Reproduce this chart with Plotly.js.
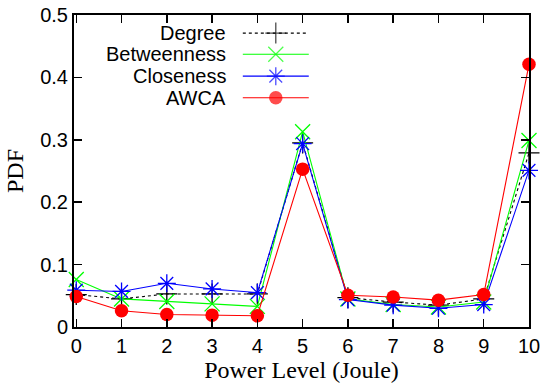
<!DOCTYPE html>
<html>
<head>
<meta charset="utf-8">
<script src="https://cdn.plot.ly/plotly-3.0.1.min.js"></script>
<style>html,body{margin:0;padding:0;background:#fff;}#chart{width:545px;height:387px;}</style>
</head>
<body>
<div id="chart"></div>
<script>
// Data
const powerLevels = [0, 1, 2, 3, 4, 5, 6, 7, 8, 9, 10];
const seriesNames = ["Degree", "Betweenness", "Closeness", "AWCA"];
const degree      = [0.052, 0.045, 0.053, 0.053, 0.053, 0.295, 0.047, 0.040, 0.035, 0.045, 0.279];
const betweenness = [0.076, 0.045, 0.041, 0.037, 0.033, 0.313, 0.045, 0.036, 0.032, 0.040, 0.299];
const closeness   = [0.059, 0.057, 0.070, 0.061, 0.055, 0.294, 0.044, 0.035, 0.030, 0.036, 0.251];
const awca        = [0.049, 0.026, 0.020, 0.019, 0.018, 0.253, 0.051, 0.048, 0.043, 0.052, 0.421];
const xTickVals = [0, 1, 2, 3, 4, 5, 6, 7, 8, 9, 10];
const yTickVals = [0, 0.1, 0.2, 0.3, 0.4, 0.5];
const yTickText = ["0", "0.1", "0.2", "0.3", "0.4", "0.5"];

// Styles
const styles = [
  {color: "#000000", dash: "dot", symbol: "cross-thin-open", size: 15, mlw: 1.3},
  {color: "#00ff00", dash: "solid", symbol: "x-thin-open", size: 15, mlw: 1.3},
  {color: "#0000ff", dash: "solid", symbol: "asterisk-open", size: 15, mlw: 1.3},
  {color: "#ff0000", dash: "solid", symbol: "circle", size: 13.5, mlw: 0}
];
const allSeries = [degree, betweenness, closeness, awca];

const traces = allSeries.map((vals, i) => ({
  x: powerLevels, y: vals, type: "scatter", mode: "lines+markers",
  name: seriesNames[i], showlegend: false,
  line: {color: styles[i].color, width: 1.1, dash: styles[i].dash},
  marker: {symbol: styles[i].symbol, size: styles[i].size, color: styles[i].color,
           line: {color: styles[i].color, width: styles[i].mlw}},
  cliponaxis: false
}));

// Custom legend (text on left, sample on right), in an overlay axis of 0..1
const legendRows = [0.942, 0.874, 0.804, 0.735];
const legX0 = 0.371, legX1 = 0.516, legTextX = 0.338;
const annotations = [];
seriesNames.forEach((nm, i) => {
  traces.push({
    x: [legX0, (legX0 + legX1) / 2, legX1], y: [legendRows[i], legendRows[i], legendRows[i]],
    xaxis: "x2", yaxis: "y2", type: "scatter", mode: "lines+markers", showlegend: false,
    hoverinfo: "skip",
    line: {color: styles[i].color, width: 1.1, dash: styles[i].dash},
    marker: {symbol: styles[i].symbol, size: [0, styles[i].size, 0], color: styles[i].color,
             line: {color: styles[i].color, width: styles[i].mlw}}
  });
  annotations.push({
    xref: "x2", yref: "y2", x: legTextX, y: legendRows[i], text: nm, showarrow: false,
    xanchor: "right", yanchor: "middle",
    font: {family: "Liberation Sans, Arial, sans-serif", size: 20, color: "#000"}
  });
});

const axisCommon = {
  showline: true, linecolor: "#000", linewidth: 2, mirror: "allticks",
  ticks: "inside", ticklen: 8, tickwidth: 1.5, tickcolor: "#000",
  showgrid: false, zeroline: false,
  tickfont: {family: "Liberation Sans, Arial, sans-serif", size: 20, color: "#000"}
};

const layout = {
  width: 545, height: 387,
  margin: {l: 74, r: 15.5, t: 15, b: 59.5},
  paper_bgcolor: "#fff", plot_bgcolor: "#fff",
  showlegend: false,
  xaxis: Object.assign({}, axisCommon, {
    range: [-0.05, 10], tickvals: xTickVals, ticktext: xTickVals.map(String),
    title: {text: "Power Level (Joule)", standoff: 4,
            font: {family: "Liberation Serif, Times New Roman, serif", size: 24, color: "#000"}}
  }),
  yaxis: Object.assign({}, axisCommon, {
    range: [0, 0.5], tickvals: yTickVals, ticktext: yTickText,
    title: {text: "PDF", standoff: 10,
            font: {family: "Liberation Serif, Times New Roman, serif", size: 24, color: "#000"}}
  }),
  xaxis2: {overlaying: "x", range: [0, 1], visible: false, fixedrange: true},
  yaxis2: {overlaying: "y", range: [0, 1], visible: false, fixedrange: true},
  annotations: annotations
};

Plotly.newPlot("chart", traces, layout, {displayModeBar: false, staticPlot: true});
</script>
</body>
</html>
